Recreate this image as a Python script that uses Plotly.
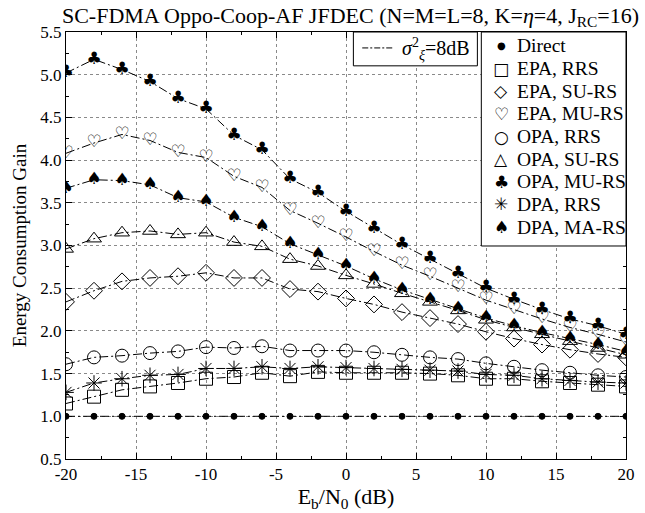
import plotly.graph_objects as go

# ---------------- data ----------------
eb_n0 = [-20, -18, -16, -14, -12, -10, -8, -6, -4, -2, 0, 2, 4, 6, 8, 10, 12, 14, 16, 18, 20]

direct = [1.0, 1.0, 1.0, 1.0, 1.0, 1.0, 1.0, 1.0, 1.0, 1.0, 1.0,
          1.0, 1.0, 1.0, 1.0, 1.0, 1.0, 1.0, 1.0, 1.0, 1.0]
epa_rrs = [1.15, 1.23, 1.31, 1.35, 1.39, 1.44, 1.46, 1.51, 1.47, 1.52, 1.51,
           1.51, 1.51, 1.50, 1.48, 1.44, 1.44, 1.41, 1.39, 1.37, 1.35]
epa_su = [2.34, 2.47, 2.58, 2.62, 2.64, 2.68, 2.62, 2.62, 2.49, 2.46, 2.38,
          2.31, 2.22, 2.15, 2.08, 1.99, 1.91, 1.84, 1.78, 1.73, 1.69]
epa_mu = [4.08, 4.20, 4.30, 4.23, 4.09, 4.03, 3.81, 3.68, 3.41, 3.26, 3.10,
          2.93, 2.77, 2.64, 2.50, 2.36, 2.25, 2.14, 2.04, 1.96, 1.87]
opa_rrs = [1.61, 1.69, 1.71, 1.74, 1.76, 1.81, 1.80, 1.82, 1.77, 1.77, 1.77,
           1.75, 1.72, 1.69, 1.67, 1.62, 1.58, 1.54, 1.51, 1.48, 1.46]
opa_su = [2.96, 3.08, 3.15, 3.17, 3.13, 3.15, 3.04, 2.99, 2.84, 2.76, 2.65,
          2.55, 2.44, 2.34, 2.24, 2.13, 2.04, 1.96, 1.88, 1.80, 1.72]
opa_mu = [5.02, 5.18, 5.06, 4.92, 4.72, 4.60, 4.29, 4.12, 3.78, 3.62, 3.40,
          3.20, 3.01, 2.84, 2.67, 2.50, 2.37, 2.25, 2.14, 2.06, 1.96]
dpa_rrs = [1.28, 1.39, 1.44, 1.48, 1.49, 1.56, 1.56, 1.58, 1.56, 1.58, 1.57,
           1.56, 1.55, 1.54, 1.53, 1.49, 1.48, 1.44, 1.42, 1.40, 1.39]
dpa_ma = [3.67, 3.77, 3.76, 3.71, 3.56, 3.51, 3.33, 3.22, 3.02, 2.89, 2.76,
          2.61, 2.48, 2.37, 2.26, 2.15, 2.06, 1.98, 1.91, 1.84, 1.76]

x_tick_vals = [-20, -15, -10, -5, 0, 5, 10, 15, 20]
x_tick_text = ["-20", "-15", "-10", "-5", "0", "5", "10", "15", "20"]
y_tick_vals = [0.5, 1.0, 1.5, 2.0, 2.5, 3.0, 3.5, 4.0, 4.5, 5.0, 5.5]
y_tick_text = ["0.5", "1.0", "1.5", "2.0", "2.5", "3.0", "3.5", "4.0", "4.5", "5.0", "5.5"]

names = ["Direct", "EPA, RRS", "EPA, SU-RS", "EPA, MU-RS", "OPA, RRS",
         "OPA, SU-RS", "OPA, MU-RS", "DPA, RRS", "DPA, MA-RS"]
values = [direct, epa_rrs, epa_su, epa_mu, opa_rrs, opa_su, opa_mu, dpa_rrs, dpa_ma]
# marker symbol (plotly) or glyph text
symbols = ["circle", "square-open", "diamond-open", None, "circle-open",
           "triangle-up-open", None, "asterisk-open", None]
glyphs = ["●", "□", "◇", "♡", "○", "△", "♣", "✳", "♠"]

SERIF = "Liberation Serif"
GLYPH_FONT = "DejaVu Sans"
DASH = "9px,3px,2px,3px"

fig = go.Figure()
for name, vals, sym, gl in zip(names, values, symbols, glyphs):
    if sym is not None:
        size = 6 if sym == "circle" else 13
        fig.add_trace(go.Scatter(
            x=eb_n0, y=vals, name=name, mode="lines+markers",
            line=dict(color="black", width=1, dash=DASH),
            marker=dict(symbol=sym, size=size, color="black",
                        line=dict(color="black", width=1)),
            showlegend=False))
    else:
        fig.add_trace(go.Scatter(
            x=eb_n0, y=vals, name=name, mode="lines+text",
            text=[gl] * len(vals), textposition="middle center",
            textfont=dict(family=GLYPH_FONT, size=17, color="black"),
            line=dict(color="black", width=1, dash=DASH),
            showlegend=False))

# ---------------- layout geometry (pixels) ----------------
W, H = 645, 513
L, R, T, B = 66, 10, 32, 52
PW, PH = W - L - R, H - T - B


def px(xp):
    return (xp - L) / PW


def py(yp):
    return (H - B - yp) / PH


shapes = []
annotations = []

# legend box
shapes.append(dict(type="rect", xref="paper", yref="paper",
                   x0=px(488), x1=1.0, y0=py(247), y1=1.0,
                   line=dict(color="black", width=1), fillcolor="white",
                   layer="above"))
for i, (name, gl) in enumerate(zip(names, glyphs)):
    yy = py(46 + 22.75 * i)
    gsize = 10 if gl == "●" else 17
    annotations.append(dict(x=px(508), y=yy, xref="paper", yref="paper",
                            text=gl, showarrow=False, xanchor="center",
                            yanchor="middle",
                            font=dict(family=GLYPH_FONT, size=gsize, color="black")))
    annotations.append(dict(x=px(522), y=yy, xref="paper", yref="paper",
                            text=name, showarrow=False, xanchor="left",
                            yanchor="middle",
                            font=dict(family=SERIF, size=19.5, color="black")))

# sigma annotation box
shapes.append(dict(type="rect", xref="paper", yref="paper",
                   x0=px(358), x1=px(484), y0=py(66), y1=1.0,
                   line=dict(color="black", width=1), fillcolor="white",
                   layer="above"))
shapes.append(dict(type="line", xref="paper", yref="paper",
                   x0=px(367), x1=px(398), y0=py(48), y1=py(48),
                   line=dict(color="black", width=1, dash="6px,2px,2px,2px"),
                   layer="above"))
annotations.append(dict(x=px(405), y=py(49), xref="paper", yref="paper",
                        text="<i>σ</i><sup>2</sup><sub><i>ξ</i></sub>=8dB",
                        showarrow=False, xanchor="left", yanchor="middle",
                        font=dict(family=SERIF, size=20, color="black")))

axis_common = dict(
    showline=True, linecolor="black", linewidth=1, mirror="ticks",
    ticks="inside", ticklen=6, tickcolor="black", tickwidth=1,
    showgrid=True, gridcolor="#8a8a8a", griddash="dot", gridwidth=1,
    zeroline=False, tickmode="array",
    tickfont=dict(family=SERIF, size=17, color="black"),
)

fig.update_layout(
    width=W, height=H,
    margin=dict(l=L, r=R, t=T, b=B),
    paper_bgcolor="white", plot_bgcolor="white",
    showlegend=False,
    title=dict(text="SC-FDMA Oppo-Coop-AF JFDEC (N=M=L=8, K=<i>η</i>=4, J<sub>RC</sub>=16)",
               x=(L + PW / 2) / W, xanchor="center", y=1 - 15 / H, yanchor="middle",
               font=dict(family=SERIF, size=22, color="black")),
    xaxis=dict(range=[-20, 20], tickvals=x_tick_vals, ticktext=x_tick_text,
               minor=dict(ticks="inside", ticklen=3, tick0=-20, dtick=2.5,
                          tickcolor="black", showgrid=False),
               title=dict(text="E<sub>b</sub>/N<sub>0</sub> (dB)", standoff=3,
                          font=dict(family=SERIF, size=22, color="black")),
               **axis_common),
    yaxis=dict(range=[0.5, 5.5], tickvals=y_tick_vals, ticktext=y_tick_text,
               minor=dict(ticks="inside", ticklen=3, tick0=0.5, dtick=0.25,
                          tickcolor="black", showgrid=False),
               title=dict(text="Energy Consumption Gain", standoff=8,
                          font=dict(family=SERIF, size=19, color="black")),
               **axis_common),
    shapes=shapes,
    annotations=annotations,
)

fig.write_html("out.html")
